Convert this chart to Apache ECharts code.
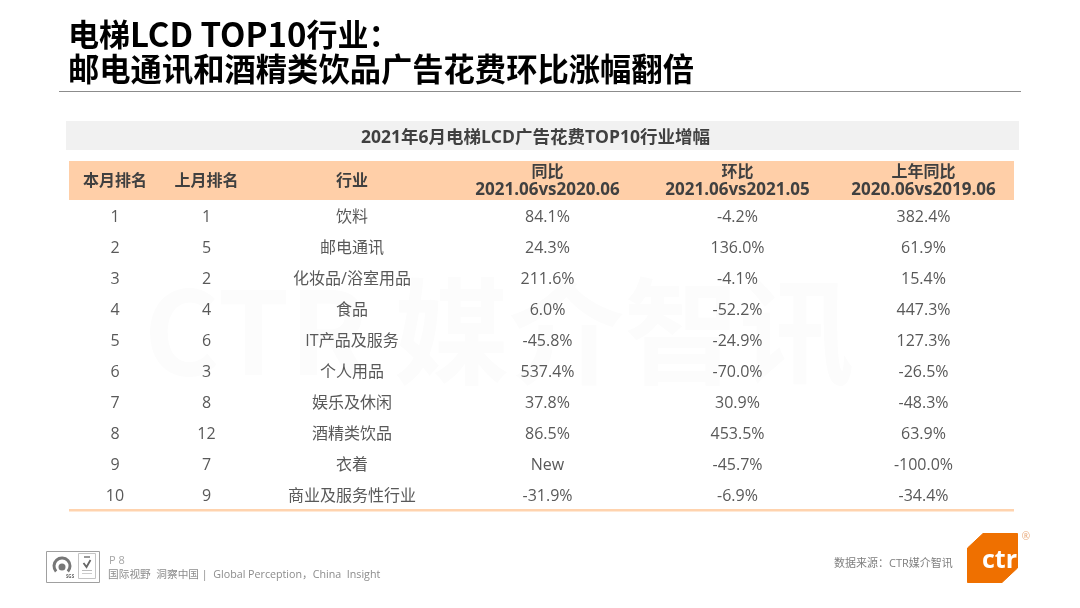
<!DOCTYPE html>
<html lang="zh">
<head>
<meta charset="utf-8">
<title>电梯LCD TOP10行业</title>
<style>
  html, body { margin: 0; background: #fff; }
  #chart { width: 1080px; height: 608px; }
</style>
<script src="https://cdn.jsdelivr.net/npm/echarts@6/dist/echarts.min.js"></script>
</head>
<body>
<div id="chart"></div>
<script>
let titleLine1 = '{a|电梯}{b|LCD TOP10}{a|行业：}';
let titleLine2 = '邮电通讯和酒精类饮品广告花费环比涨幅翻倍';
let tableTitle = '2021年6月电梯LCD广告花费TOP10行业增幅';
let headerTop = ['本月排名', '上月排名', '行业', '同比', '环比', '上年同比'];
let headerBottom = ['', '', '', '2021.06vs2020.06', '2021.06vs2021.05', '2020.06vs2019.06'];

let rankNow = ['1', '2', '3', '4', '5', '6', '7', '8', '9', '10'];
let rankLast = ['1', '5', '2', '4', '6', '3', '8', '12', '7', '9'];
let industries = ['饮料', '邮电通讯', '化妆品/浴室用品', '食品', 'IT产品及服务', '个人用品', '娱乐及休闲', '酒精类饮品', '衣着', '商业及服务性行业'];
let yoy = ['84.1%', '24.3%', '211.6%', '6.0%', '-45.8%', '537.4%', '37.8%', '86.5%', 'New', '-31.9%'];
let mom = ['-4.2%', '136.0%', '-4.1%', '-52.2%', '-24.9%', '-70.0%', '30.9%', '453.5%', '-45.7%', '-6.9%'];
let lastYoy = ['382.4%', '61.9%', '15.4%', '447.3%', '127.3%', '-26.5%', '-48.3%', '63.9%', '-100.0%', '-34.4%'];

let pageNo = 'P 8';
let slogan = '国际视野  洞察中国 |  Global Perception，China  Insight';
let source = '数据来源：CTR媒介智讯';
let watermark = 'CTR 媒介智讯';

let columns = [rankNow, rankLast, industries, yoy, mom, lastYoy];
let colX = [115, 206.5, 352, 547.5, 737.5, 923.5];
let firstRowY = 217;
let rowGap = 31.1;

let font = '"Open Sans", "Noto Sans CJK SC", sans-serif';
let cjk = '"Noto Sans CJK SC", sans-serif';

function text(x, y, str, size, color, opts) {
    return {
        type: 'text',
        x: x,
        y: y,
        z: (opts && opts.z) || 5,
        style: Object.assign({
            text: str,
            fontSize: size,
            fontFamily: font,
            fill: color,
            align: 'center',
            verticalAlign: 'middle'
        }, opts && opts.style)
    };
}

function rect(x, y, w, h, fill, z) {
    return { type: 'rect', z: z || 2, shape: { x: x, y: y, width: w, height: h }, style: { fill: fill } };
}

let els = [];

// title
els.push(text(68, 34, titleLine1, 31, '#000', { style: {
    align: 'left',
    rich: {
        a: { fontSize: 31, fontWeight: 'bold', fontFamily: cjk, fill: '#000' },
        b: { fontSize: 33, fontWeight: 'bold', fontFamily: cjk, fill: '#000' }
    }
} }));
els.push(text(68, 69, titleLine2, 31.3, '#000', { style: { align: 'left', fontWeight: 'bold', fontFamily: cjk } }));
els.push(rect(59, 91, 962, 1, '#8c8c8c'));

// watermark
els.push(text(499, 331, watermark, 115, '#fcfcfc', { z: 1, style: { fontWeight: 'bold', fontFamily: cjk } }));

// table
els.push(rect(66, 121, 953, 29, '#f1f1f1'));
els.push(text(535.5, 138, tableTitle, 17.5, '#404040', { style: { fontWeight: 'bold' } }));
els.push(rect(69, 161, 945, 39, '#ffcfa8'));
headerTop.forEach((h, i) => {
    let two = headerBottom[i] !== '';
    els.push(text(colX[i], two ? 172 : 181, h, 16, '#404040', { style: { fontWeight: 'bold' } }));
    if (two) {
        els.push(text(colX[i], 190, headerBottom[i], 17, '#404040', { style: { fontWeight: 'bold' } }));
    }
});
columns.forEach((col, c) => {
    col.forEach((v, r) => {
        els.push(text(colX[c], firstRowY + r * rowGap, v, 16, '#595959'));
    });
});
els.push(rect(69, 509, 945, 2.5, '#ffd3ae'));

// footer left, certification badge
els.push({ type: 'rect', z: 3, shape: { x: 46.5, y: 551.5, width: 53, height: 31 }, style: { fill: '#fff', stroke: '#a0a0a0', lineWidth: 1 } });
els.push({ type: 'arc', z: 4, shape: { cx: 62, cy: 566, r: 8, startAngle: 2.4, endAngle: 0.75, clockwise: true }, style: { fill: 'none', stroke: '#777', lineWidth: 3 } });
els.push({ type: 'circle', z: 4, shape: { cx: 62, cy: 567, r: 3.5 }, style: { fill: '#777' } });
els.push(text(70, 577, 'SGS', 4.5, '#666', { style: { fontWeight: 'bold' } }));
els.push({ type: 'rect', z: 4, shape: { x: 78.5, y: 553.5, width: 17, height: 25 }, style: { fill: '#fff', stroke: '#c4c4c4', lineWidth: 1 } });
els.push({ type: 'polyline', z: 5, shape: { points: [[83.5, 563], [86.5, 567], [90.5, 560]] }, style: { fill: 'none', stroke: '#666', lineWidth: 1.8 } });
els.push(rect(84, 556, 6, 2, '#999', 5));
els.push(rect(82, 570, 10, 1, '#bbb', 5));
els.push(rect(82, 573, 10, 1, '#ccc', 5));
els.push(text(109, 561, pageNo, 11, '#a6a6a6', { style: { align: 'left' } }));
els.push(text(108, 575, slogan, 10.7, '#8c8c8c', { style: { align: 'left' } }));

// footer right
els.push(text(834, 564, source, 11, '#7f7f7f', { style: { align: 'left' } }));
els.push({
    type: 'polygon',
    z: 4,
    shape: { points: [[983, 533.5], [1017.5, 533.5], [1017.5, 568], [1002, 582.5], [967.5, 582.5], [967.5, 548]] },
    style: { fill: '#ef7000', stroke: '#ef7000', lineWidth: 1, lineJoin: 'round' }
});
els.push(text(999.5, 561, 'ctr', 25, '#fff', { z: 5, style: { fontWeight: 'bold', fontFamily: '"Open Sans", sans-serif' } }));
els.push(text(1026, 537, '®', 10, '#e8a878'));

let chart = echarts.init(document.getElementById('chart'), null, { renderer: 'canvas' });
chart.setOption({
    backgroundColor: '#fff',
    animation: false,
    graphic: { elements: els }
});
</script>
</body>
</html>
